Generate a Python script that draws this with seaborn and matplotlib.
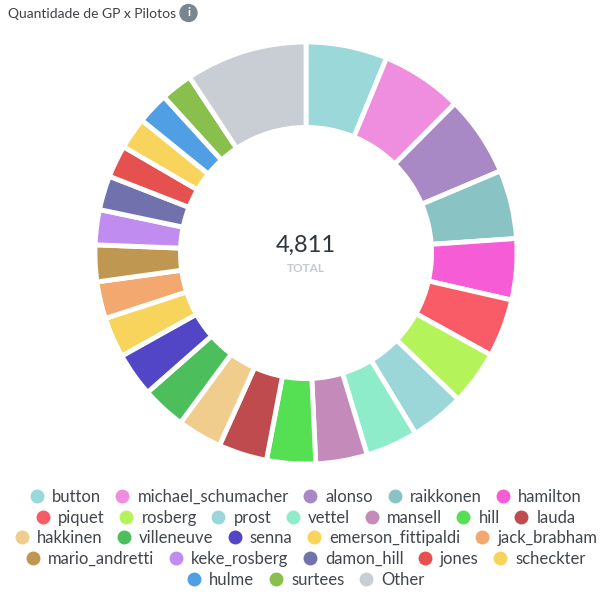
import matplotlib
matplotlib.use('Agg')
import matplotlib.pyplot as plt
from matplotlib.lines import Line2D
from matplotlib.patches import Circle
import seaborn as sns

# dados: quantidade de GP por piloto
pilotos = ['button', 'michael_schumacher', 'alonso', 'raikkonen', 'hamilton',
           'piquet', 'rosberg', 'prost', 'vettel', 'mansell', 'hill', 'lauda',
           'hakkinen', 'villeneuve', 'senna', 'emerson_fittipaldi', 'jack_brabham',
           'mario_andretti', 'keke_rosberg', 'damon_hill', 'jones', 'scheckter',
           'hulme', 'surtees', 'Other']
gps = [300, 300, 297, 253, 225, 214, 200, 199, 192, 190, 180, 179,
       164, 163, 162, 149, 136, 135, 129, 126, 119, 117, 117, 117, 448]
cores = ['#9ad8da', '#ef8ddf', '#a989c5', '#8ac3c4', '#f55cd6', '#f95c67',
         '#b5f35b', '#9bd7d9', '#8eecca', '#c48ab9', '#54e052', '#c04b4f',
         '#f0cd8d', '#4cbe5c', '#5346c6', '#f9d45c', '#f2a86f', '#c09750',
         '#c18cef', '#7172ad', '#e5514e', '#f9d45c', '#509ee3', '#88bf4d',
         '#c9ced4']
linhas_legenda = [5, 7, 5, 5, 3]

sns.set_theme(style='white')
plt.rcParams['font.family'] = ['Lato', 'DejaVu Sans']
paleta = sns.color_palette(cores)

fig = plt.figure(figsize=(6.12, 5.99), dpi=100)
ax = fig.add_axes([95/612, 135/599, 422/612, 422/599])
ax.pie(gps, colors=paleta, startangle=90, counterclock=False, radius=1,
       wedgeprops=dict(width=0.405, edgecolor='white', linewidth=3.5))
ax.set_xlim(-1, 1)
ax.set_ylim(-1, 1)
ax.set_aspect('equal')
ax.axis('off')

total = sum(gps)
ax.text(0, 0.035, f'{total:,}', ha='center', va='center', fontsize=17, color='#2e353b')
ax.text(0, -0.072, 'TOTAL', ha='center', va='center', fontsize=8.5, fontweight='bold', color='#c6cacf')

# titulo + icone de info
fig.text(8/612, 1 - 14/599, 'Quantidade de GP x Pilotos', ha='left', va='center',
         fontsize=10, color='#3d4045')
fig.add_artist(Circle((1.885, 5.99 - 0.13), 0.085, transform=fig.dpi_scale_trans,
                      color='#7b8590'))
fig.text(188.5/612, 1 - 13/599, 'i', ha='center', va='center', fontsize=8.5,
         fontweight='bold', color='white')

# legenda em linhas centralizadas
ys = [496.7, 517.7, 538, 559, 580]
i = 0
for n, y in zip(linhas_legenda, ys):
    handles = [Line2D([], [], marker='o', linestyle='', markersize=9,
                      markerfacecolor=c, markeredgecolor=c) for c in paleta[i:i+n]]
    fig.legend(handles, pilotos[i:i+n], loc='center', bbox_to_anchor=(0.5, 1 - y/599),
               ncol=n, frameon=False, fontsize=12, labelcolor='#41464d',
               handlelength=0.8, handletextpad=0.5, columnspacing=0.9,
               borderpad=0, borderaxespad=0)
    i += n

fig.savefig('out.png', dpi=100)
